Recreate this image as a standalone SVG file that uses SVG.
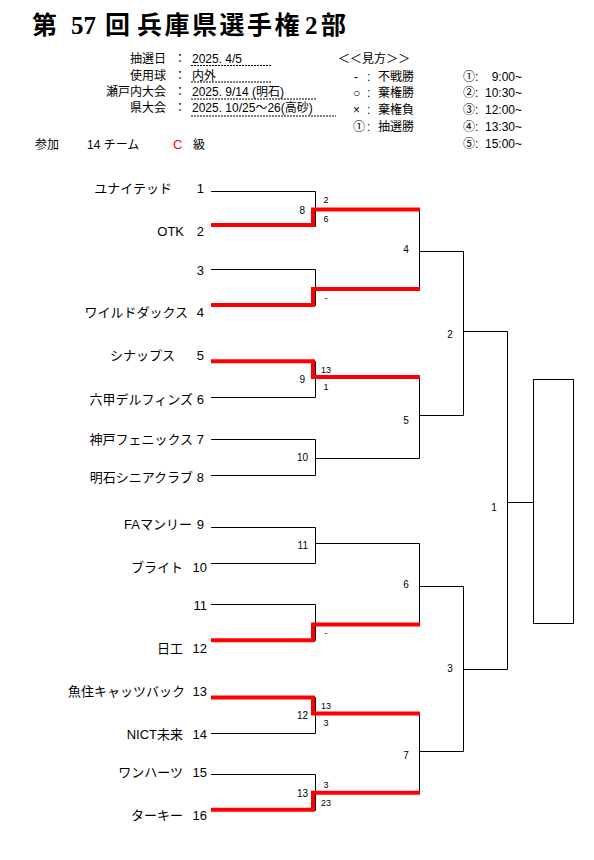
<svg xmlns="http://www.w3.org/2000/svg" width="594" height="860" viewBox="0 0 594 860">
<style>
text{font-family:"Liberation Sans","Noto Sans CJK JP",sans-serif;fill:#000}
.ttl{font-family:"Liberation Serif","Noto Sans CJK JP",serif;font-size:25px;font-weight:bold}
.h{font-size:12px}
.nm{font-size:13px}
.mn{font-size:10px}
.sc{font-size:9px}
.end{text-anchor:end}
.mid{text-anchor:middle}
.ln{stroke:#000;stroke-width:1;fill:none}
.win{stroke:#ff0000;stroke-width:4;fill:none;stroke-linejoin:miter;stroke-linecap:butt}
.dot{stroke:#000;stroke-width:1;stroke-dasharray:2 1}
</style>
<rect width="594" height="860" fill="#fff"/>

<g id="title">
<text class="ttl" y="34"><tspan x="32">第</tspan><tspan x="71">57</tspan><tspan x="105">回</tspan><tspan x="137 164.5 192 219.5 247 274.5">兵庫県選手権</tspan><tspan x="305">2</tspan><tspan x="321">部</tspan></text>
</g>

<g id="info">
<text class="h end" x="166" y="62.6">抽選日</text>
<text class="h end" x="166" y="80">使用球</text>
<text class="h end" x="166" y="96">瀬戸内大会</text>
<text class="h end" x="166" y="111.6">県大会</text>
<text class="h mid" x="180" y="62.6">：</text>
<text class="h mid" x="180" y="80">：</text>
<text class="h mid" x="180" y="96">：</text>
<text class="h mid" x="180" y="111.6">：</text>
<text class="h" x="192" y="62.6">2025. 4/5</text>
<text class="h" x="192" y="80">内外</text>
<text class="h" x="192" y="96">2025. 9/14 (明石)</text>
<text class="h" x="192" y="111.6">2025. 10/25～26(高砂)</text>
<line class="dot" x1="191" y1="65.5" x2="272" y2="65.5"/>
<line class="dot" x1="191" y1="82" x2="272" y2="82"/>
<line class="dot" x1="191" y1="99" x2="317" y2="99"/>
<line class="dot" x1="191" y1="116" x2="336" y2="116"/>
</g>

<g id="legend">
<text class="h" x="338" y="62.6">＜＜見方＞＞</text>
<text class="h" y="81"><tspan x="354">-</tspan><tspan x="367">:</tspan><tspan x="378">不戦勝</tspan></text>
<text class="h" y="97"><tspan x="353">○</tspan><tspan x="367">:</tspan><tspan x="378">棄権勝</tspan></text>
<text class="h" y="113.6"><tspan x="353">×</tspan><tspan x="367">:</tspan><tspan x="378">棄権負</tspan></text>
<text class="h" y="131"><tspan x="353">①</tspan><tspan x="367">:</tspan><tspan x="378">抽選勝</tspan></text>
<text class="h" y="81"><tspan x="463">①:</tspan><tspan class="end" x="522">9:00~</tspan></text>
<text class="h" y="97"><tspan x="463">②:</tspan><tspan class="end" x="522">10:30~</tspan></text>
<text class="h" y="113.6"><tspan x="463">③:</tspan><tspan class="end" x="522">12:00~</tspan></text>
<text class="h" y="131"><tspan x="463">④:</tspan><tspan class="end" x="522">13:30~</tspan></text>
<text class="h" y="148.3"><tspan x="463">⑤:</tspan><tspan class="end" x="522">15:00~</tspan></text>
</g>

<g id="participation">
<text class="h" x="35" y="149.3">参加</text>
<text class="h" x="87" y="149.3">14 チーム</text>
<text class="h" x="173" y="149.3" style="fill:#ff0000;font-size:13px">C</text>
<text class="h" x="193" y="149.3">級</text>
</g>

<g id="connectors">
<path class="ln" d="M211 191.5H315.5V226.5H211M315.5 209.5H419.5
M211 269.5H315.5V305.5H211M315.5 288.5H419.5
M211 361.5H315.5V397.5H211M315.5 377.5H419.5
M211 439.5H315.5V475.5H211M315.5 458.5H419.5
M211 527.5H315.5V563.5H211M315.5 543.5H419.5
M211 604.5H315.5V640.5H211M315.5 624.5H419.5
M211 697.5H315.5V733.5H211M315.5 713.5H419.5
M211 774.5H315.5V810.5H211M315.5 792.5H419.5
M419.5 209.5V288.5M419.5 251.5H463.5
M419.5 377.5V458.5M419.5 415.5H463.5
M419.5 543.5V624.5M419.5 586.5H463.5
M419.5 713.5V792.5M419.5 751.5H463.5
M463.5 251.5V415.5M463.5 331.5H507.5
M463.5 586.5V751.5M463.5 669.5H507.5
M507.5 331.5V669.5M507.5 502.5H533.5"/>
<path class="win" d="M211 225H313V209.5H420"/>
<path class="win" d="M211 305H313V289H420"/>
<path class="win" d="M211 361.3H313V377H420"/>
<path class="win" d="M211 640.3H313V624.5H420"/>
<path class="win" d="M211 697.5H313V713.5H420"/>
<path class="win" d="M211 809.7H313V792.8H420"/>
</g>

<g id="champion">
<rect class="ln" x="533.5" y="379.5" width="40" height="244"/>
</g>

<g id="team1"><text class="nm" y="192.7"><tspan class="end" x="172">ユナイテッド</tspan><tspan class="end" x="204">1</tspan></text></g>
<g id="team2"><text class="nm" y="235.7"><tspan class="end" x="184">OTK</tspan><tspan class="end" x="204">2</tspan></text></g>
<g id="team3"><text class="nm end" x="204" y="274.7">3</text></g>
<g id="team4"><text class="nm" y="316.7"><tspan class="end" x="188">ワイルドダックス</tspan><tspan class="end" x="204">4</tspan></text></g>
<g id="team5"><text class="nm" y="360.4"><tspan class="end" x="175">シナップス</tspan><tspan class="end" x="204">5</tspan></text></g>
<g id="team6"><text class="nm" y="404"><tspan class="end" x="193">六甲デルフィンズ</tspan><tspan class="end" x="204">6</tspan></text></g>
<g id="team7"><text class="nm" y="443.7"><tspan class="end" x="193">神戸フェニックス</tspan><tspan class="end" x="204">7</tspan></text></g>
<g id="team8"><text class="nm" y="482"><tspan class="end" x="193">明石シニアクラブ</tspan><tspan class="end" x="204">8</tspan></text></g>
<g id="team9"><text class="nm" y="528.7"><tspan class="end" x="192">FAマンリー</tspan><tspan class="end" x="204">9</tspan></text></g>
<g id="team10"><text class="nm" y="572.4"><tspan class="end" x="183">ブライト</tspan><tspan class="end" x="207">10</tspan></text></g>
<g id="team11"><text class="nm end" x="207" y="610.4">11</text></g>
<g id="team12"><text class="nm" y="653"><tspan class="end" x="183">日工</tspan><tspan class="end" x="207">12</tspan></text></g>
<g id="team13"><text class="nm" y="695.7"><tspan class="end" x="185">魚住キャッツバック</tspan><tspan class="end" x="207">13</tspan></text></g>
<g id="team14"><text class="nm" y="738.7"><tspan class="end" x="183">NICT未来</tspan><tspan class="end" x="207">14</tspan></text></g>
<g id="team15"><text class="nm" y="777"><tspan class="end" x="183">ワンハーツ</tspan><tspan class="end" x="207">15</tspan></text></g>
<g id="team16"><text class="nm" y="819.7"><tspan class="end" x="183">ターキー</tspan><tspan class="end" x="207">16</tspan></text></g>

<g id="match8"><text class="mn end" x="305" y="213.5">8</text><text class="sc mid" x="326" y="203.2">2</text><text class="sc mid" x="326" y="221.5">6</text></g>
<g id="match-b"><text class="sc mid" x="326" y="301">-</text></g>
<g id="match9"><text class="mn end" x="305" y="382.5">9</text><text class="sc mid" x="326" y="372.5">13</text><text class="sc mid" x="326" y="390">1</text></g>
<g id="match10"><text class="mn end" x="308" y="460.5">10</text></g>
<g id="match11"><text class="mn end" x="308" y="549.2">11</text></g>
<g id="match-f"><text class="sc mid" x="326" y="636">-</text></g>
<g id="match12"><text class="mn end" x="308" y="718.5">12</text><text class="sc mid" x="326" y="709">13</text><text class="sc mid" x="326" y="726">3</text></g>
<g id="match13"><text class="mn end" x="308" y="796.5">13</text><text class="sc mid" x="326" y="787.5">3</text><text class="sc mid" x="326" y="806">23</text></g>
<g id="match4"><text class="mn mid" x="406" y="252.5">4</text></g>
<g id="match5"><text class="mn mid" x="406" y="423.5">5</text></g>
<g id="match6"><text class="mn mid" x="406" y="587.5">6</text></g>
<g id="match7"><text class="mn mid" x="406" y="758.5">7</text></g>
<g id="match2"><text class="mn mid" x="450" y="337.5">2</text></g>
<g id="match3"><text class="mn mid" x="450" y="671.5">3</text></g>
<g id="match1"><text class="mn mid" x="494" y="510.5">1</text></g>
</svg>
